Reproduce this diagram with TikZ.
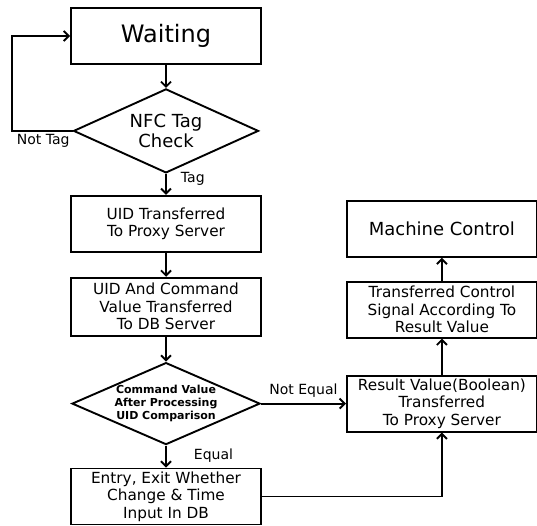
\documentclass[tikz,border=0pt]{standalone}
\usepackage{fontspec}
\setmainfont{DejaVu Sans}
\usetikzlibrary{shapes.geometric, arrows.meta, positioning}

\begin{document}
\begin{tikzpicture}[
        box/.style={draw, line width=1.9pt, minimum width=190pt, minimum height=56pt, align=center, font=\fontsize{15.3}{17.5}\selectfont, inner sep=1pt},
        dec/.style={draw, diamond, line width=1.9pt, align=center, inner sep=0pt},
        arr/.style={-{Straight Barb[length=5pt,width=10pt]}, line width=1.9pt},
        lbl/.style={font=\fontsize{14}{16}\selectfont, inner sep=2pt}
    ]
        \useasboundingbox (0,0) rectangle (537pt,525pt);
        % left column
        \node[box, font=\fontsize{24}{26}\selectfont] (wait) at (166pt,489pt) {Waiting};
        \node[dec, below=23pt of wait, aspect=2.5, minimum width=185pt, minimum height=84pt, font=\fontsize{18}{20}\selectfont] (nfc) {NFC Tag\\Check};
        \node[box, below=21pt of nfc] (uid) {UID Transferred\\To Proxy Server};
        \node[box, below=24pt of uid, minimum height=58pt] (cmd) {UID And Command\\Value Transferred\\To DB Server};
        \node[dec, below=25pt of cmd, aspect=2.3, minimum width=188pt, minimum height=82pt, font=\fontsize{11}{13}\selectfont\bfseries] (cmp) {Command Value\\After Processing\\UID Comparison};
        \node[box, below=22pt of cmp] (entry) {Entry, Exit Whether\\Change \& Time\\Input In DB};
        % right column
        \node[box, right=85pt of cmp] (res) {Result Value(Boolean)\\Transferred\\To Proxy Server};
        \node[box, above=36pt of res] (ctrl) {Transferred Control\\Signal According To\\Result Value};
        \node[box, above=23pt of ctrl, font=\fontsize{18}{21}\selectfont] (mc) {Machine Control};

        \draw[arr] (wait) -- (nfc);
        \draw[arr] (nfc.west) -- node[lbl, below left, pos=0] {Not Tag} ++(-61pt,0) |- (wait.west);
        \draw[arr] (nfc) -- node[lbl, right=12pt, pos=0.25] {Tag} (uid);
        \draw[arr] (uid) -- (cmd);
        \draw[arr] (cmd) -- (cmp);
        \draw[arr] (cmp) -- node[lbl, right=25pt, pos=0.45] {Equal} (entry);
        \draw[arr] (cmp) -- node[lbl, above=3pt] {Not Equal} (res);
        \draw[arr] (entry.east) -| (res.south);
        \draw[arr] (res) -- (ctrl);
        \draw[arr] (ctrl) -- (mc);
    \end{tikzpicture}
\end{document}
